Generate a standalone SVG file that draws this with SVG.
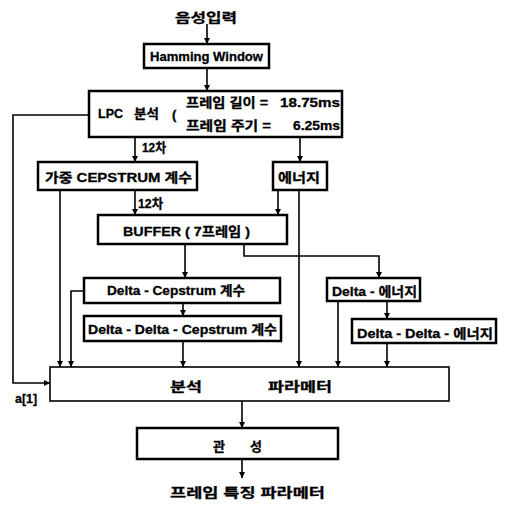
<svg xmlns="http://www.w3.org/2000/svg" width="506" height="506" viewBox="0 0 506 506">
<style>
.bg{fill:#fff}
.box{fill:#fff;stroke:#000;stroke-width:2.5}
.box2{fill:#fff;stroke:#000;stroke-width:1.6}
.t{font-family:"Liberation Sans","Noto Sans CJK KR",sans-serif;font-weight:bold;font-size:13px;fill:#000;stroke:#000;stroke-width:0.3}
.c{text-anchor:middle}
.e{text-anchor:end}
.ln{fill:none;stroke:#000;stroke-width:1.6}
</style>
<defs>
<marker id="ah" markerUnits="userSpaceOnUse" markerWidth="8" markerHeight="8" refX="6" refY="3" orient="auto">
<path d="M0,0 L6,3 L0,6 Z" fill="#000"/>
</marker>
</defs>
<rect class="bg" x="0" y="0" width="506" height="506"/>

<g id="connectors">
<path class="ln" d="M207,24 V44" marker-end="url(#ah)"/>
<path class="ln" d="M207,68 V91" marker-end="url(#ah)"/>
<path class="ln" d="M89,115 H13 V383 H50" marker-end="url(#ah)"/>
<path class="ln" d="M135,137 V162" marker-end="url(#ah)"/>
<path class="ln" d="M300,137 V162" marker-end="url(#ah)"/>
<path class="ln" d="M60,190 V367" marker-end="url(#ah)"/>
<path class="ln" d="M135,190 V215" marker-end="url(#ah)"/>
<path class="ln" d="M278,190 V215" marker-end="url(#ah)"/>
<path class="ln" d="M299,190 V367" marker-end="url(#ah)"/>
<path class="ln" d="M185,244 V278" marker-end="url(#ah)"/>
<path class="ln" d="M244,244 V256 H379 V278" marker-end="url(#ah)"/>
<path class="ln" d="M84,291 H71 V367" marker-end="url(#ah)"/>
<path class="ln" d="M183,303 V316" marker-end="url(#ah)"/>
<path class="ln" d="M183,341 V367" marker-end="url(#ah)"/>
<path class="ln" d="M338,301 V367" marker-end="url(#ah)"/>
<path class="ln" d="M387,301 V319" marker-end="url(#ah)"/>
<path class="ln" d="M387,343 V367" marker-end="url(#ah)"/>
<path class="ln" d="M242,401 V428" marker-end="url(#ah)"/>
<path class="ln" d="M242,459 V478" marker-end="url(#ah)"/>
<text class="t" x="142" y="152" textLength="24" lengthAdjust="spacingAndGlyphs">12차</text>
<text class="t" x="138" y="208" textLength="25" lengthAdjust="spacingAndGlyphs">12차</text>
<text class="t" x="15" y="403" textLength="22" lengthAdjust="spacingAndGlyphs">a[1]</text>
</g>

<g id="input">
<text class="t" x="175" y="22" font-size="14" textLength="62" lengthAdjust="spacingAndGlyphs">음성입력</text>
</g>

<g id="hamming">
<rect class="box" x="144" y="44" width="125" height="24"/>
<text class="t" x="150" y="61" textLength="113" lengthAdjust="spacingAndGlyphs">Hamming Window</text>
</g>

<g id="lpc">
<rect class="box" x="89" y="91" width="253" height="46"/>
<text class="t" x="98" y="118" textLength="25" lengthAdjust="spacingAndGlyphs">LPC</text>
<text class="t" x="134" y="118" textLength="25" lengthAdjust="spacingAndGlyphs">분석</text>
<text class="t" x="172" y="119" font-size="14">(</text>
<text class="t" x="186" y="107" font-size="14" textLength="82" lengthAdjust="spacingAndGlyphs">프레임 길이 =</text>
<text class="t" x="280" y="107" textLength="60" lengthAdjust="spacingAndGlyphs">18.75ms</text>
<text class="t" x="186" y="130" font-size="14" textLength="85" lengthAdjust="spacingAndGlyphs">프레임 주기 =</text>
<text class="t" x="293" y="130" textLength="47" lengthAdjust="spacingAndGlyphs">6.25ms</text>
</g>

<g id="cepstrum">
<rect class="box" x="38" y="162" width="159" height="28"/>
<text class="t" x="45" y="182" textLength="147" lengthAdjust="spacingAndGlyphs">가중  CEPSTRUM 계수</text>
</g>

<g id="energy">
<rect class="box" x="273" y="162" width="54" height="28"/>
<text class="t" x="278" y="182" textLength="42" lengthAdjust="spacingAndGlyphs">에너지</text>
</g>

<g id="buffer">
<rect class="box" x="98" y="215" width="189" height="29"/>
<text class="t" x="123" y="236" textLength="127" lengthAdjust="spacingAndGlyphs">BUFFER ( 7프레임 )</text>
</g>

<g id="delta-cepstrum">
<rect class="box" x="84" y="278" width="196" height="25"/>
<text class="t" x="107" y="295" textLength="138" lengthAdjust="spacingAndGlyphs">Delta - Cepstrum 계수</text>
</g>

<g id="delta-delta-cepstrum">
<rect class="box" x="84" y="316" width="197" height="25"/>
<text class="t" x="88" y="334" textLength="189" lengthAdjust="spacingAndGlyphs">Delta - Delta - Cepstrum 계수</text>
</g>

<g id="delta-energy">
<rect class="box" x="327" y="278" width="93" height="23"/>
<text class="t" x="332" y="296" textLength="85" lengthAdjust="spacingAndGlyphs">Delta - 에너지</text>
</g>

<g id="delta-delta-energy">
<rect class="box" x="352" y="319" width="144" height="24"/>
<text class="t" x="357" y="338" textLength="136" lengthAdjust="spacingAndGlyphs">Delta - Delta - 에너지</text>
</g>

<g id="analysis">
<rect class="box2" x="50" y="367" width="399" height="34"/>
<text class="t" x="170" y="391" font-size="14" textLength="32" lengthAdjust="spacingAndGlyphs">분석</text>
<text class="t" x="268" y="391" font-size="14" textLength="64" lengthAdjust="spacingAndGlyphs">파라메터</text>
</g>

<g id="inertia">
<rect class="box" x="137" y="428" width="201" height="31"/>
<text class="t" x="213" y="451" font-size="15">관</text>
<text class="t" x="250" y="451" font-size="15">성</text>
</g>

<g id="output">
<text class="t" x="170" y="497" font-size="14" textLength="155" lengthAdjust="spacingAndGlyphs">프레임 특징 파라메터</text>
</g>
</svg>
